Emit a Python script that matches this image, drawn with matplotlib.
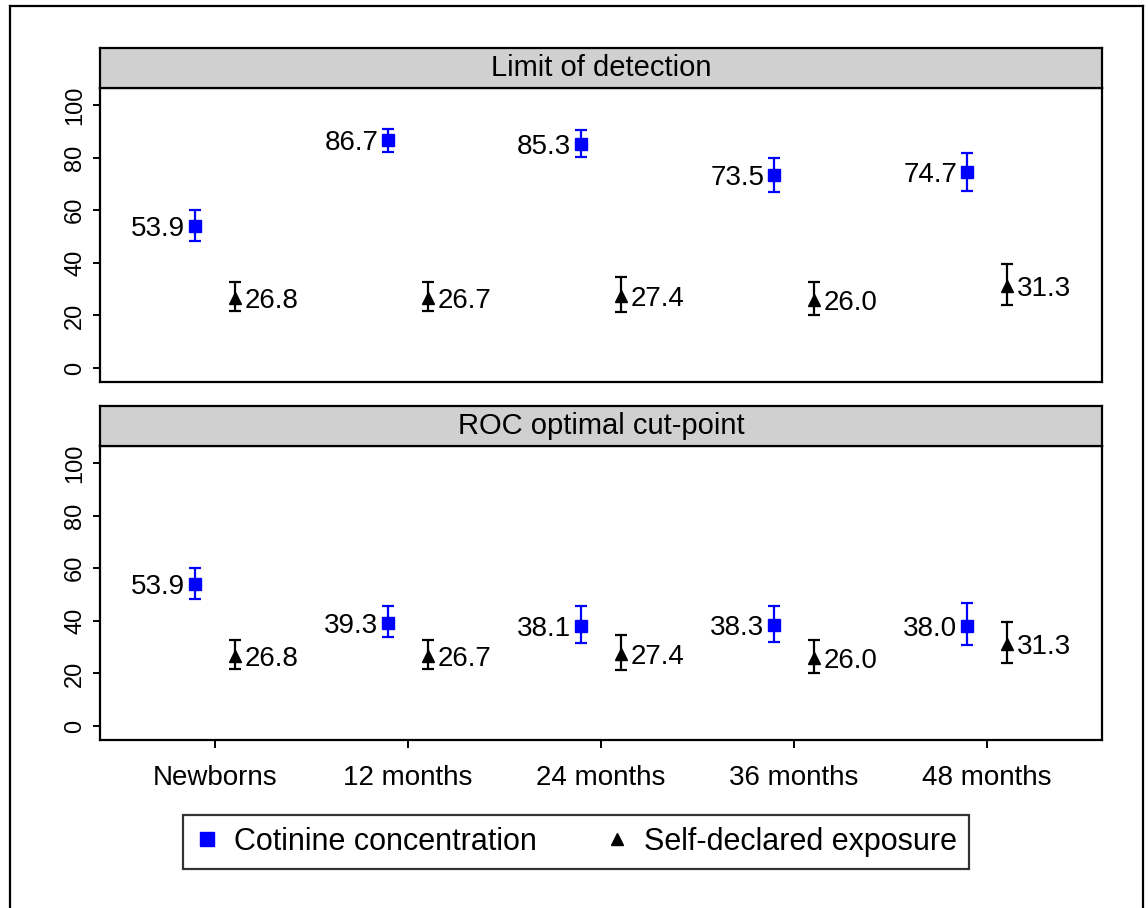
import numpy as np
import matplotlib
matplotlib.use("Agg")
import matplotlib.pyplot as plt
from matplotlib.lines import Line2D

plt.rcParams['font.family'] = ['Liberation Sans', 'DejaVu Sans']

groups = ["Newborns", "12 months", "24 months", "36 months", "48 months"]
panels = ["Limit of detection", "ROC optimal cut-point"]

# cotinine concentration (blue squares)
cot_est = [[53.9, 86.7, 85.3, 73.5, 74.7],
           [53.9, 39.3, 38.1, 38.3, 38.0]]
cot_lo = [[48.4, 82.3, 80.1, 67.0, 67.4],
          [48.3, 33.8, 31.4, 31.9, 30.8]]
cot_hi = [[60.2, 90.9, 90.5, 79.8, 81.6],
          [60.1, 45.6, 45.6, 45.6, 46.9]]

# self-declared exposure (black triangles)
self_est = [26.8, 26.7, 27.4, 26.0, 31.3]
self_lo = [21.8, 21.8, 21.5, 20.3, 24.1]
self_hi = [32.6, 32.6, 34.7, 32.9, 39.5]

W, H = 1148, 908
fig = plt.figure(figsize=(W / 100, H / 100), dpi=100)

def fbox(x0, y0, x1, y1):
    return [x0 / W, 1 - y1 / H, (x1 - x0) / W, (y1 - y0) / H]

x = np.arange(len(groups))
off = 0.104
fs = 20

tops = [48, 406]
for k in range(2):
    t = tops[k]
    ax = fig.add_axes(fbox(100, t + 40, 1102, t + 334))
    strip = fig.add_axes(fbox(100, t, 1102, t + 40))
    strip.set_facecolor("#d0d0d0")
    strip.set_xticks([])
    strip.set_yticks([])
    for s in strip.spines.values():
        s.set_linewidth(1.6)
    strip.text(0.5, 0.5, panels[k], ha="center", va="center", fontsize=21,
               transform=strip.transAxes)

    ce = np.array(cot_est[k])
    yerr = [ce - np.array(cot_lo[k]), np.array(cot_hi[k]) - ce]
    ax.errorbar(x - off, ce, yerr=yerr, fmt="s", color="#0000ff", ms=8.5,
                capsize=4.3, elinewidth=1.6, capthick=1.6)
    se = np.array(self_est)
    yerr2 = [se - np.array(self_lo), np.array(self_hi) - se]
    ax.errorbar(x + off, se, yerr=yerr2, fmt="^", color="black", ms=8.5,
                capsize=4.3, elinewidth=1.6, capthick=1.6)

    for i in range(len(groups)):
        ax.annotate("%.1f" % ce[i], (x[i] - off, ce[i]), xytext=(-7, 0),
                    textcoords="offset points", ha="right",
                    va="center_baseline", fontsize=fs)
        ax.annotate("%.1f" % se[i], (x[i] + off, se[i]), xytext=(7, 0),
                    textcoords="offset points", ha="left",
                    va="center_baseline", fontsize=fs)

    ax.set_xlim(-0.596, 4.596)
    ax.set_ylim(-5.3, 106.5)
    ax.set_yticks([0, 20, 40, 60, 80, 100])
    ax.tick_params(axis="y", length=5, width=1.4, labelsize=17, pad=5)
    for lab in ax.get_yticklabels():
        lab.set_rotation(90)
        lab.set_va("center")
    for s in ax.spines.values():
        s.set_linewidth(1.6)
    ax.set_xticks(x)
    if k == 0:
        ax.tick_params(axis="x", length=0, labelbottom=False)
    else:
        ax.set_xticklabels(groups)
        ax.tick_params(axis="x", length=6, width=1.4, labelsize=fs, pad=12)

handles = [Line2D([], [], marker="s", color="#0000ff", ls="none", ms=10),
           Line2D([], [], marker="^", color="black", ls="none", ms=9)]
leg = fig.legend(handles, ["Cotinine concentration", "Self-declared exposure"],
                 loc="center", bbox_to_anchor=(576 / W, 1 - 842 / H), ncol=2,
                 fontsize=22, frameon=True, fancybox=False, handlelength=0.8,
                 handletextpad=0.5, columnspacing=2.2, borderpad=0.4,
                 borderaxespad=0)
leg.get_frame().set_edgecolor("black")
leg.get_frame().set_linewidth(1.6)

# outer frame (bottom edge cut off in the original)
fig.add_artist(Line2D([10 / W, 10 / W], [0, 1 - 6 / H], color="black", lw=1.6))
fig.add_artist(Line2D([10 / W, 1143 / W], [1 - 6 / H, 1 - 6 / H], color="black", lw=1.6))
fig.add_artist(Line2D([1143 / W, 1143 / W], [0, 1 - 6 / H], color="black", lw=1.6))

fig.savefig("out.png", dpi=100)
